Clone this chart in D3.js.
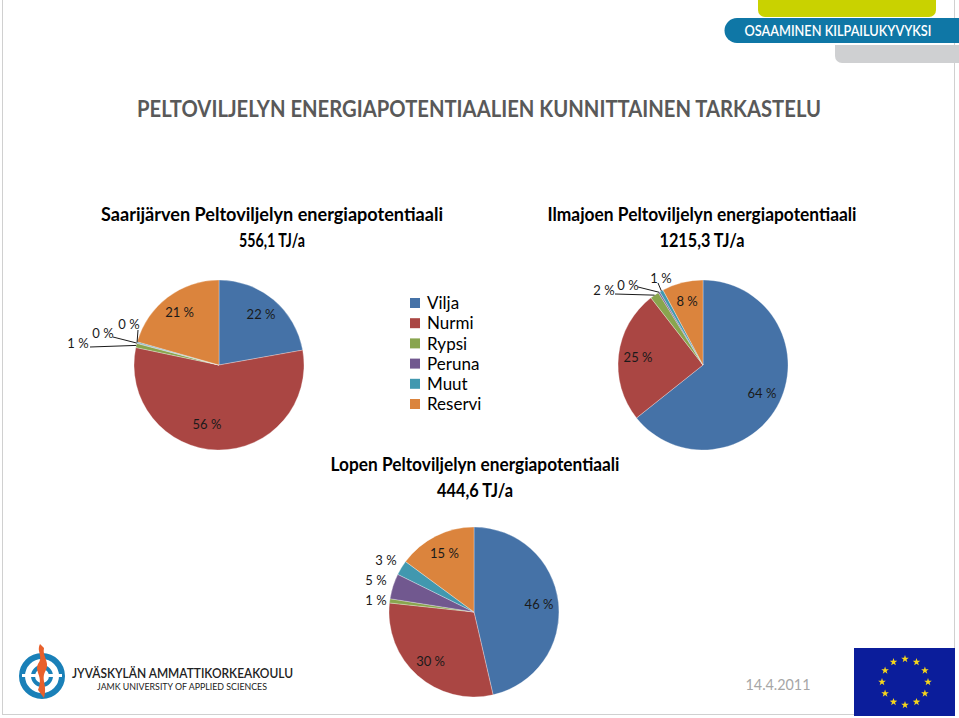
<!DOCTYPE html>
<html><head><meta charset="utf-8">
<script src="https://cdn.jsdelivr.net/npm/d3@7"></script>
<style>body{margin:0;background:#fff}svg{display:block}</style>
</head><body>
<svg id="c" width="959" height="718"></svg>
<script>
const categories = ["Vilja","Nurmi","Rypsi","Peruna","Muut","Reserve"];
const legendLabels = ["Vilja","Nurmi","Rypsi","Peruna","Muut","Reservi"];
const colors = ["#4572A7","#AA4643","#89A54E","#71588F","#4198AF","#DB843D"];
const saarijarviValues = [22.2, 56.1, 0.8, 0.1, 0.2, 20.6];
const ilmajokiValues   = [64.3, 25.2, 1.7, 0.3, 0.7, 7.8];
const lopiValues       = [46.4, 30.3, 0.8, 4.8, 2.8, 14.9];
const saarijarviLabels = ["22 %","56 %","1 %","0 %","0 %","21 %"];
const ilmajokiLabels   = ["64 %","25 %","2 %","0 %","1 %","8 %"];
const lopiLabels       = ["46 %","30 %","1 %","5 %","3 %","15 %"];
const mainTitle = "PELTOVILJELYN ENERGIAPOTENTIAALIEN KUNNITTAINEN TARKASTELU";
const dateText = "14.4.2011";

const svg = d3.select("#c");
const F = "Lato, 'Open Sans', sans-serif";

// slide border
svg.append("rect").attr("x",2.5).attr("y",-2).attr("width",952).attr("height",716.5)
  .attr("fill","none").attr("stroke","#d0d0d0").attr("stroke-width",1);

// top-right banner
svg.append("path").attr("d","M758,0 H936 V10 a7,7 0 0 1 -7,7 H765 a7,7 0 0 1 -7,-7 Z").attr("fill","#c9d200");
svg.append("path").attr("d","M737,18 H959 V43 H737 a12.5,12.5 0 0 1 0,-25 Z").attr("fill","#0f77a6");
svg.append("text").attr("x",838).attr("y",36).attr("text-anchor","middle").attr("fill","#fff")
  .attr("font-family",F).attr("font-size",15).attr("font-weight",600)
  .attr("textLength",187).attr("lengthAdjust","spacingAndGlyphs").text("OSAAMINEN KILPAILUKYVYKSI");
svg.append("path").attr("d","M835,45 H959 V63 H842 a7,7 0 0 1 -7,-7 Z").attr("fill","#cfd0d2");

// main title
svg.append("text").attr("x",479).attr("y",117).attr("text-anchor","middle").attr("fill","#595959")
  .attr("font-family",F).attr("font-size",23).attr("font-weight",700)
  .attr("textLength",684).attr("lengthAdjust","spacingAndGlyphs").text(mainTitle);

function subTitle(cx, y1, w1, line1, w2, line2){
  const g = svg.append("g").attr("font-family",F).attr("font-size",18.5).attr("font-weight",700).attr("fill","#000").attr("text-anchor","middle");
  g.append("text").attr("x",cx).attr("y",y1).attr("textLength",w1).attr("lengthAdjust","spacingAndGlyphs").text(line1);
  g.append("text").attr("x",cx).attr("y",y1+26).attr("textLength",w2).attr("lengthAdjust","spacingAndGlyphs").text(line2);
}
subTitle(272, 221, 342, "Saarijärven Peltoviljelyn energiapotentiaali", 66, "556,1 TJ/a");
subTitle(702, 221, 309, "Ilmajoen Peltoviljelyn energiapotentiaali", 85, "1215,3 TJ/a");
subTitle(475, 471, 289, "Lopen Peltoviljelyn energiapotentiaali", 76, "444,6 TJ/a");

const R = 85;
const pie = d3.pie().sort(null).value(d=>d);
const arc = d3.arc().innerRadius(0).outerRadius(R);

function drawPie(cx, cy, values, labels, layout){
  const g = svg.append("g").attr("transform",`translate(${cx},${cy})`);
  const arcs = pie(values);
  g.selectAll("path").data(arcs).enter().append("path")
    .attr("d",arc).attr("fill",(d,i)=>colors[i]).attr("stroke","#fff").attr("stroke-width",0.3);
  arcs.forEach((a,i)=>{
    const mid = (a.startAngle+a.endAngle)/2;
    const L = layout[i] || {};
    let x, y;
    if (L.out){
      x = L.out[0]; y = L.out[1];
      if (L.lead){
        const ex = Math.sin(mid)*R, ey = -Math.cos(mid)*R;
        g.append("path").attr("d",`M${L.lead[0]},${L.lead[1]}L${ex},${ey}`)
          .attr("fill","none").attr("stroke","#000").attr("stroke-width",0.9);
      }
    } else {
      const k = 0.77*R;
      x = Math.sin(mid)*k + (L.dx||0); y = -Math.cos(mid)*k + (L.dy||0);
    }
    g.append("text").attr("x",x).attr("y",y).attr("dy","0.35em").attr("text-anchor","middle")
      .attr("font-family",F).attr("font-size",13).attr("fill","#1a1a1a").text(labels[i]);
  });
}

drawPie(219, 365, saarijarviValues, saarijarviLabels, [
  {}, {dx:-11, dy:-6},
  {out:[-141,-22], lead:[-129,-18]},
  {out:[-116,-32], lead:[-106,-28]},
  {out:[-90,-41], lead:[-81,-35]},
  {}
]);
drawPie(703, 365, ilmajokiValues, ilmajokiLabels, [
  {}, {},
  {out:[-99,-75], lead:[-88,-71]},
  {out:[-75,-80], lead:[-65,-78]},
  {out:[-42,-87], lead:[-45,-82]},
  {}
]);
drawPie(474, 612, lopiValues, lopiLabels, [
  {}, {},
  {out:[-98,-12]},
  {out:[-98,-32]},
  {out:[-88,-52]},
  {}
]);

// legend
const lg = svg.append("g").attr("font-family",F).attr("font-size",17).attr("fill","#000");
legendLabels.forEach((t,i)=>{
  const y = 303 + i*20.2;
  lg.append("rect").attr("x",410).attr("y",y-5).attr("width",10).attr("height",10).attr("fill",colors[i]);
  lg.append("text").attr("x",427).attr("y",y).attr("dy","0.36em").text(t);
});

// date
svg.append("text").attr("x",778).attr("y",690).attr("text-anchor","middle").attr("fill","#a6a6a6")
  .attr("font-family",F).attr("font-size",16).attr("textLength",65).attr("lengthAdjust","spacingAndGlyphs").text(dateText);

// EU flag
svg.append("rect").attr("x",854).attr("y",648).attr("width",101).attr("height",68).attr("fill","#0b1d9b");
const starPts = d3.range(10).map(k=>{const r = k%2?1.6:4; const a = k*Math.PI/5; return [Math.sin(a)*r, -Math.cos(a)*r];});
d3.range(12).forEach(k=>{
  const a = k*Math.PI/6;
  svg.append("polygon").attr("points",starPts.map(p=>p.join(",")).join(" "))
    .attr("transform",`translate(${905+Math.sin(a)*23},${682-Math.cos(a)*23})`).attr("fill","#f5d51c");
});

// JAMK logo
const lo = svg.append("g");
lo.append("circle").attr("cx",42).attr("cy",676).attr("r",20).attr("fill","none").attr("stroke","#1a80b8").attr("stroke-width",6);
lo.append("circle").attr("cx",42).attr("cy",676).attr("r",9).attr("fill","none").attr("stroke","#1a80b8").attr("stroke-width",4);
lo.append("rect").attr("x",22).attr("y",674).attr("width",40).attr("height",3).attr("fill","#fff");
lo.append("path").attr("d","M40,644 C36,652 44,656 38,664 C34,672 44,676 38,690 L44,698 C48,684 40,680 46,670 C50,662 42,656 44,648 Z").attr("fill","#e8602c");
lo.append("text").attr("x",72).attr("y",678).attr("font-family",F).attr("font-size",14).attr("font-weight",600).attr("fill","#222")
  .attr("textLength",221).attr("lengthAdjust","spacingAndGlyphs").text("JYVÄSKYLÄN AMMATTIKORKEAKOULU");
lo.append("text").attr("x",97).attr("y",690).attr("font-family",F).attr("font-size",9).attr("fill","#222")
  .attr("textLength",170).attr("lengthAdjust","spacingAndGlyphs").text("JAMK UNIVERSITY OF APPLIED SCIENCES");
</script>
</body></html>
